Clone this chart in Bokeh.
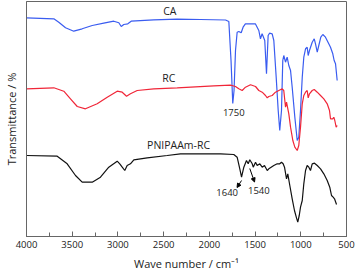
from bokeh.plotting import figure
from bokeh.models import Range1d, SingleIntervalTicker, FixedTicker, Arrow, NormalHead
from bokeh.core.properties import value
from bokeh.embed import file_html
from bokeh.resources import INLINE

# ---- data (wavenumber in cm^-1, transmittance in arbitrary offset units) ----
ca_wn = [4000, 3701, 3647, 3573, 3483, 3391, 3281, 3155, 3045, 2990, 2964, 2936, 2892, 2855,
         2608, 2352, 2097, 1823, 1787, 1763, 1744, 1730, 1714, 1696, 1678, 1652, 1631, 1606,
         1497, 1459, 1441, 1423, 1394, 1375, 1357, 1342, 1313, 1295, 1269, 1247, 1230, 1211,
         1197, 1186, 1167, 1149, 1131, 1112, 1094, 1065, 1039, 1022, 1003, 984, 967, 948, 930,
         919, 905, 875, 853, 839, 820, 803, 781, 759, 730, 694, 675, 650, 635, 620, 602]
ca_t = [218.7, 217.7, 214.3, 208.7, 205.3, 207.7, 211, 213.3, 215.3, 213.7, 210, 212, 212.7, 215.3,
        216.7, 217.3, 217, 216.5, 215, 176, 133, 146, 186, 204.3, 205, 203.7, 209.3, 212.7,
        212.7, 206, 197.7, 202.7, 196, 162.7, 201, 203.3, 202.7, 196, 159.3, 126, 106, 126,
        176, 181, 174.3, 179.3, 171, 166, 149.3, 119.3, 96, 99.3, 126, 159.3, 179.3, 187.7, 189.3,
        181, 186, 194.3, 197.7, 192.7, 184.3, 191, 199.3, 202, 199.3, 192.7, 189.3, 182.7, 176, 172.7, 156]

rc_wn = [4000, 3701, 3592, 3519, 3445, 3355, 3227, 3117, 3008, 2953, 2906, 2863, 2789, 2608,
         2352, 1951, 1769, 1714, 1678, 1641, 1605, 1550, 1495, 1459, 1422, 1386, 1367, 1350,
         1313, 1277, 1240, 1203, 1186, 1167, 1156, 1131, 1112, 1087, 1065, 1039, 1022, 1003,
         984, 967, 948, 930, 919, 905, 875, 853, 820, 784, 748, 711, 686, 675, 650, 639, 628, 613, 602]
rc_t = [147.7, 148.7, 145.3, 137.7, 130, 127.7, 132.7, 139.3, 145.3, 144.3, 140.3, 142.7, 146, 147.7,
        148.7, 150.7, 151.3, 150, 147.7, 146, 149.3, 151.7, 150, 146, 144.3, 141, 138.7, 140,
        141, 144.3, 146, 147.7, 146, 129.3, 134.3, 122.7, 109.3, 96, 89.3, 86, 91, 109.3,
        132.7, 141, 144.3, 146, 138.7, 142.7, 146, 147, 144.3, 141, 137.7, 132.7, 126, 117.7, 117.7, 119.3, 116, 109.3, 111]

pn_wn = [4000, 3664, 3555, 3464, 3391, 3281, 3191, 3100, 3008, 2980, 2953, 2925, 2899, 2863,
         2826, 2680, 2461, 2316, 2097, 1878, 1733, 1696, 1667, 1648, 1623, 1594, 1575, 1558,
         1531, 1520, 1495, 1477, 1448, 1422, 1397, 1367, 1350, 1324, 1295, 1258, 1230, 1211,
         1193, 1178, 1156, 1142, 1120, 1094, 1069, 1047, 1033, 1017, 1003, 984, 967, 948, 930,
         912, 894, 875, 850, 820, 784, 748, 711, 683, 664, 646, 631, 609]
pn_t = [81, 80.3, 72.7, 61, 54.3, 54.3, 59.3, 69.3, 75.3, 72.7, 69.3, 66, 71, 72.7,
        76.7, 78.7, 81, 82.7, 82.7, 82.7, 82, 79.3, 67.7, 59.3, 69.3, 76, 72.7, 76.7,
        72.7, 69.3, 74.3, 71, 72.7, 69.3, 71, 66, 67.7, 69.3, 71, 72.7, 72.7, 74.3,
        72.7, 69.3, 57.7, 62.7, 51, 37.7, 26, 18.7, 14.3, 21, 29.3, 36, 52.7, 66, 71,
        69.3, 66, 72.7, 73.3, 71, 67.7, 62.7, 56, 49.3, 41, 39.3, 37.7, 32]

x_ticks_interval = 500

FONT = "Open Sans"
TXT = "#222222"
FRAME = "#666666"

p = figure(width=356, height=277, output_backend="svg", toolbar_location=None,
           x_range=Range1d(4000, 500), y_range=Range1d(0, 235),
           min_border_left=26, min_border_right=10, min_border_top=1, min_border_bottom=41)
p.background_fill_color = "white"
p.border_fill_color = "white"
p.outline_line_color = FRAME
p.outline_line_width = 1
p.grid.visible = False

p.line(ca_wn, ca_t, line_color="#3a5cf0", line_width=1.2)
p.line(rc_wn, rc_t, line_color="#f02638", line_width=1.2)
p.line(pn_wn, pn_t, line_color="#111111", line_width=1.2)

# labels
p.text(x=[2432], y=[226], text=["CA"], text_font=value(FONT), text_font_size="10.5px",
       text_color=TXT, text_align="center", text_baseline="middle")
p.text(x=[2443], y=[158.7], text=["RC"], text_font=value(FONT), text_font_size="10.5px",
       text_color=TXT, text_align="center", text_baseline="middle")
p.text(x=[2337], y=[91.7], text=["PNIPAAm-RC"], text_font=value(FONT), text_font_size="10.5px",
       text_color=TXT, text_align="center", text_baseline="middle")
p.text(x=[1733], y=[123.7], text=["1750"], text_font=value(FONT), text_font_size="9.5px",
       text_color=TXT, text_align="center", text_baseline="middle")
p.text(x=[1805], y=[44.3], text=["1640"], text_font=value(FONT), text_font_size="9.5px",
       text_color=TXT, text_align="center", text_baseline="middle")
p.text(x=[1459], y=[46], text=["1540"], text_font=value(FONT), text_font_size="9.5px",
       text_color=TXT, text_align="center", text_baseline="middle")

p.add_layout(Arrow(end=NormalHead(size=4, fill_color="black", line_color="black"),
                   x_start=1648, y_start=56, x_end=1697, y_end=49, line_width=1))
p.add_layout(Arrow(end=NormalHead(size=4, fill_color="black", line_color="black"),
                   x_start=1558, y_start=68, x_end=1506, y_end=54.5, line_width=1))

# x axis
xa = p.xaxis[0]
xa.ticker = SingleIntervalTicker(interval=x_ticks_interval, num_minor_ticks=2)
xa.axis_label = "Wave number / cm⁻¹"
xa.axis_label_text_font = FONT
xa.axis_label_text_font_size = "11px"
xa.axis_label_text_font_style = "normal"
xa.axis_label_text_color = TXT
xa.axis_label_standoff = 5
xa.major_label_text_font = FONT
xa.major_label_text_font_size = "9.5px"
xa.major_label_text_color = TXT
xa.major_label_standoff = 4
xa.major_tick_in = 5
xa.major_tick_out = 0
xa.minor_tick_in = 4
xa.minor_tick_out = 0
xa.axis_line_color = FRAME
xa.major_tick_line_color = FRAME
xa.minor_tick_line_color = FRAME

# y axis
ya = p.yaxis[0]
ya.ticker = FixedTicker(ticks=[])
ya.axis_label = "Transmittance / %"
ya.axis_label_text_font = FONT
ya.axis_label_text_font_size = "11px"
ya.axis_label_text_font_style = "normal"
ya.axis_label_text_color = TXT
ya.axis_label_standoff = 8
ya.major_tick_line_color = None
ya.minor_tick_line_color = None
ya.axis_line_color = FRAME

open("out.html", "w").write(file_html(p, INLINE))
